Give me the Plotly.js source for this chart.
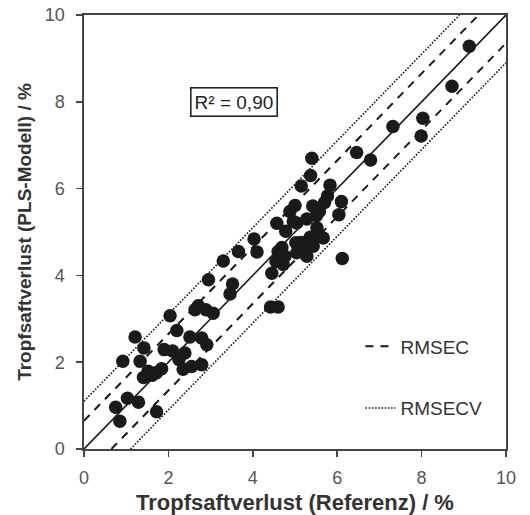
<!DOCTYPE html>
<html>
<head>
<meta charset="utf-8">
<script src="https://cdn.plot.ly/plotly-3.0.1.min.js"></script>
<style>html,body{margin:0;padding:0;background:#fff;}#chart{width:530px;height:515px;}</style>
</head>
<body>
<div id="chart"></div>
<script>
// Reference values (x) and PLS-model predictions (y), in %
const referenz = [
  9.13, 8.72, 8.03, 7.99, 7.32, 6.46, 6.79,
  5.40, 5.37, 5.15, 5.83, 5.77, 6.10, 5.70, 6.04, 5.00, 5.42, 5.58, 5.51, 5.28,
  4.57, 4.96, 4.88, 4.78, 5.04, 5.52, 5.59, 5.36, 5.67, 5.02, 5.14, 4.69, 5.43,
  5.16, 5.04, 5.28, 4.76, 4.60, 4.55, 4.72, 4.45, 6.12,
  4.03, 4.10, 3.66, 3.30, 2.95, 3.52, 3.46, 4.42, 4.60, 2.71, 2.63, 2.89, 3.06,
  2.04, 2.20,
  1.21, 1.42, 2.51, 2.79, 2.91, 1.90, 2.10, 2.39, 0.92, 1.33, 2.25, 2.35, 2.79,
  2.55, 1.84, 1.72, 1.52, 1.41, 1.62, 1.03, 1.29, 0.75, 1.72, 0.85
];
const plsModell = [
  9.28, 8.36, 7.62, 7.21, 7.43, 6.83, 6.66,
  6.70, 6.30, 6.06, 6.08, 5.83, 5.70, 5.68, 5.40, 5.61, 5.60, 5.48, 5.38, 5.30,
  5.20, 5.24, 5.47, 5.02, 5.21, 5.10, 4.90, 4.88, 4.86, 4.75, 4.76, 4.64, 4.67,
  4.57, 4.52, 4.44, 4.44, 4.55, 4.32, 4.25, 4.05, 4.39,
  4.84, 4.54, 4.55, 4.33, 3.90, 3.80, 3.57, 3.27, 3.27, 3.30, 3.21, 3.21, 3.13,
  3.07, 2.73,
  2.58, 2.33, 2.58, 2.56, 2.40, 2.29, 2.26, 2.21, 2.02, 2.02, 2.06, 1.84, 1.94,
  1.90, 1.85, 1.76, 1.79, 1.65, 1.70, 1.17, 1.08, 0.96, 0.86, 0.64
];
const axisRange = [0, 10];
const tickValues = [0, 2, 4, 6, 8, 10];
const RMSEC = 0.65;
const RMSECV = 1.1;
const r2Label = "R² = 0,90";

const lo = axisRange[0], hi = axisRange[1];
function band(off) {
  return {
    upper: {x: [lo, hi - off], y: [lo + off, hi]},
    lower: {x: [lo + off, hi], y: [lo, hi - off]}
  };
}
const bc = band(RMSEC), bcv = band(RMSECV);
const lineCol = '#1a1a1a';
const FONT = 'Liberation Sans, Arial, sans-serif';

const traces = [
  {x: [lo, hi], y: [lo, hi], mode: 'lines', line: {color: lineCol, width: 1.6}, showlegend: false, hoverinfo: 'skip'},
  {x: bc.upper.x, y: bc.upper.y, mode: 'lines', line: {color: lineCol, width: 2, dash: '8px,7px'}, name: 'RMSEC', legendgroup: 'a'},
  {x: bc.lower.x, y: bc.lower.y, mode: 'lines', line: {color: lineCol, width: 2, dash: '8px,7px'}, showlegend: false, legendgroup: 'a'},
  {x: bcv.upper.x, y: bcv.upper.y, mode: 'lines', line: {color: lineCol, width: 1.6, dash: '1.6px,1.6px'}, name: 'RMSECV', legendgroup: 'b'},
  {x: bcv.lower.x, y: bcv.lower.y, mode: 'lines', line: {color: lineCol, width: 1.6, dash: '1.6px,1.6px'}, showlegend: false, legendgroup: 'b'},
  {x: referenz, y: plsModell, mode: 'markers', marker: {color: '#1a1a1a', size: 13.5, line: {width: 0}}, showlegend: false}
];

const axisCommon = {
  range: axisRange,
  tickvals: tickValues,
  ticks: 'outside',
  ticklen: 6,
  tickwidth: 1.5,
  tickcolor: '#444',
  showline: true,
  linecolor: '#444',
  linewidth: 1.6,
  mirror: true,
  showgrid: false,
  zeroline: false,
  tickfont: {family: FONT, size: 18, color: '#555'}
};

const layout = {
  width: 530,
  height: 515,
  margin: {l: 84, r: 24, t: 15, b: 66},
  paper_bgcolor: '#fff',
  plot_bgcolor: '#fff',
  showlegend: true,
  legend: {
    x: 0.655, y: 0.28, xanchor: 'left', yanchor: 'top',
    bgcolor: 'rgba(0,0,0,0)',
    traceorder: 'grouped',
    tracegroupgap: 34,
    font: {family: FONT, size: 19, color: '#333'}
  },
  xaxis: Object.assign({}, axisCommon, {
    ticklabelstandoff: 6,
    title: {text: 'Tropfsaftverlust (Referenz) / %', standoff: 9,
            font: {family: FONT, size: 22, color: '#333', weight: 'bold'}}
  }),
  yaxis: Object.assign({}, axisCommon, {
    ticklabelstandoff: 8,
    title: {text: 'Tropfsaftverlust (PLS-Modell) / %', standoff: 8,
            font: {family: FONT, size: 19, color: '#333', weight: 'bold'}}
  }),
  annotations: [{
    x: 3.55, y: 7.99, xref: 'x', yref: 'y', text: r2Label, showarrow: false,
    font: {family: FONT, size: 19, color: '#222'},
    bordercolor: '#222', borderwidth: 1.6, borderpad: 3, bgcolor: '#fff'
  }]
};

Plotly.newPlot('chart', traces, layout, {displayModeBar: false, staticPlot: true});
</script>
</body>
</html>
